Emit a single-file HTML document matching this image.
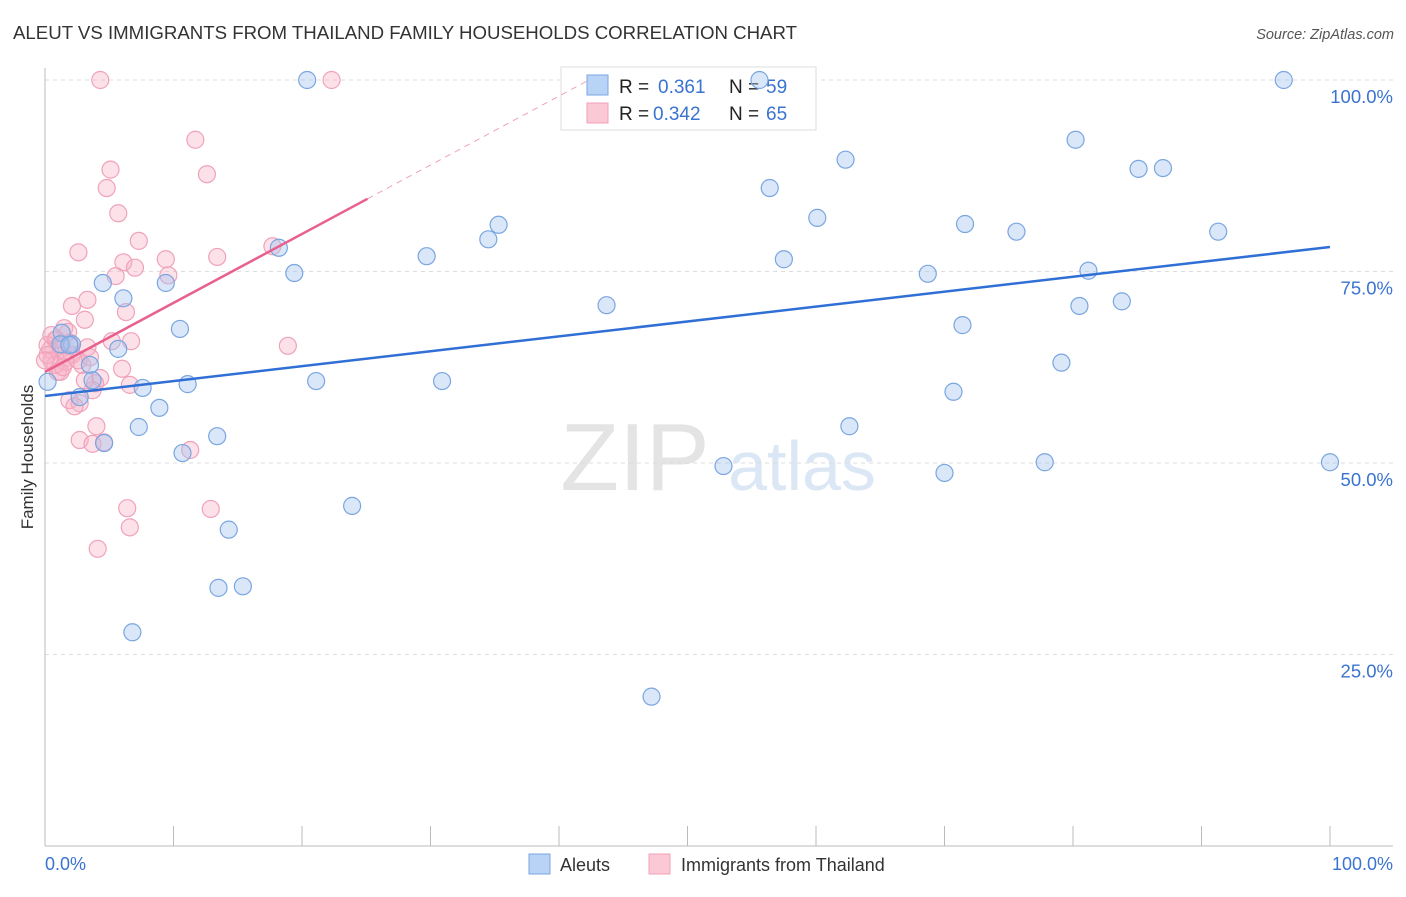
<!DOCTYPE html>
<html><head><meta charset="utf-8"><style>
body{margin:0;background:#fff;font-family:"Liberation Sans",sans-serif;}
svg text{font-family:"Liberation Sans",sans-serif;}
</style></head><body>
<svg id="chart" width="1406" height="892" viewBox="0 0 1406 892" xmlns="http://www.w3.org/2000/svg">
<text x="13" y="39" font-size="18.4" fill="#333" textLength="784" lengthAdjust="spacingAndGlyphs">ALEUT VS IMMIGRANTS FROM THAILAND FAMILY HOUSEHOLDS CORRELATION CHART</text>
<text x="1394" y="39" font-size="14.5" fill="#555" text-anchor="end" font-style="italic">Source: ZipAtlas.com</text>
<g>
<text x="635" y="490" font-size="96" fill="#e4e4e4" text-anchor="middle" font-family="Liberation Serif,serif">ZIP</text>
<text x="802" y="490" font-size="70" fill="#dbe7f5" text-anchor="middle">atlas</text>
</g>
<g id="grid"></g>
<g id="axes"></g>
<g>
<rect x="561" y="67" width="255" height="63" fill="#fff" stroke="#ddd"/>
<rect x="587" y="75" width="21" height="20" fill="#b9d3f7" stroke="#7aa6e0"/>
<rect x="587" y="103" width="21" height="20" fill="#fbc8d6" stroke="#f0a0b8"/>
<text x="619" y="93" font-size="19" fill="#222">R =</text>
<text x="658" y="93" font-size="19" fill="#3a73d0">0.361</text>
<text x="729" y="93" font-size="19" fill="#222">N =</text>
<text x="766" y="93" font-size="19" fill="#3a73d0">59</text>
<text x="619" y="120" font-size="19" fill="#222">R =</text>
<text x="653" y="120" font-size="19" fill="#3a73d0">0.342</text>
<text x="729" y="120" font-size="19" fill="#222">N =</text>
<text x="766" y="120" font-size="19" fill="#3a73d0">65</text>
</g>
<g id="pink"></g>
<g id="blue"></g>
<g id="lines"></g>
<text transform="translate(33,457) rotate(-90)" font-size="17" fill="#333" text-anchor="middle">Family Households</text>
<g>
<rect x="529" y="854" width="21" height="20" fill="#b9d3f7" stroke="#7aa6e0"/>
<text x="560" y="871" font-size="18" fill="#333">Aleuts</text>
<rect x="649" y="854" width="21" height="20" fill="#fbc8d6" stroke="#f0a0b8"/>
<text x="681" y="871" font-size="18" fill="#333">Immigrants from Thailand</text>
</g>
</svg>
<script>
const blueX=[0.2,20.4,55.6,96.4,80.2,62.3,85.1,87.0,56.4,60.1,71.6,75.6,91.3,34.5,35.3,29.7,18.2,19.4,57.5,68.7,81.2,4.5,6.1,9.4,80.5,83.8,43.7,71.4,10.5,1.3,2.1,5.7,79.1,3.5,3.7,21.1,30.9,11.1,7.6,2.7,70.7,8.9,62.6,7.3,13.4,4.6,10.7,52.8,77.8,70.0,100,23.9,14.3,13.5,15.4,6.8,47.2,1.2,1.9];
const blueY=[60.6,100,100,100,92.2,89.6,88.4,88.5,85.9,82.0,81.2,80.2,80.2,79.2,81.1,77.0,78.1,74.8,76.6,74.7,75.1,73.5,71.5,73.5,70.5,71.1,70.6,68.0,67.5,67.0,65.5,64.9,63.1,62.8,60.8,60.7,60.7,60.3,59.8,58.6,59.3,57.2,54.8,54.7,53.5,52.6,51.3,49.6,50.1,48.7,50.1,44.4,41.3,33.7,33.9,27.9,19.5,65.5,65.4];
const pinkX=[4.3,22.3,11.7,5.1,12.6,4.8,5.7,7.3,17.7,2.6,13.4,9.4,6.1,7.0,9.6,5.5,3.3,2.1,6.3,3.1,1.5,1.8,0.8,5.2,6.7,3.3,18.9,0.4,1.2,2.1,0.5,1.6,2.9,6.0,1.0,4.3,3.9,6.6,3.7,1.9,2.7,2.3,4.0,2.7,3.7,4.6,11.3,6.4,12.9,6.6,4.1,0.2,0.8,1.3,0.2,0.9,1.6,2.6,3.5,0,0.5,3.1,1.9,1.2,1.4];
const pinkY=[100,100,92.2,88.3,87.7,85.9,82.6,79.0,78.3,77.5,76.9,76.6,76.2,75.5,74.5,74.4,71.3,70.5,69.7,68.7,67.6,67.1,66.1,65.9,65.9,65.1,65.3,64.8,64.8,64.1,63.4,63.7,62.8,62.3,61.9,61.1,60.4,60.2,59.5,58.2,57.8,57.4,54.8,53.0,52.5,52.7,51.7,44.1,44.0,41.6,38.8,65.4,62.8,65.4,64.1,66.1,63.2,63.4,63.8,63.4,66.7,60.8,65.7,61.9,62.5];
const blueTrend=[58.75,78.2];
const pinkTrend=[61.9,0.9];
const yTicks=[25,50,75,100];
const yTickLabels=["25.0%","50.0%","75.0%","100.0%"];
const xTickLabels=["0.0%","100.0%"];
const NS="http://www.w3.org/2000/svg";
const X0=45,X1=1330,Y0=846,Y1=80;
const sx=v=>X0+(X1-X0)*v/100, sy=v=>Y0-(Y0-Y1)*v/100;
function mk(tag,attrs,parent){const e=document.createElementNS(NS,tag);for(const k in attrs)e.setAttribute(k,attrs[k]);parent.appendChild(e);return e;}
const grid=document.getElementById('grid'),axes=document.getElementById('axes');
yTicks.forEach((t,i)=>{
 const l=mk('line',{x1:X0,x2:1393,y1:sy(t),y2:sy(t),stroke:'#ddd','stroke-dasharray':'4,4'},grid);
 
 
 const tx=mk('text',{x:1393,y:sy(t)+23,'font-size':18.5,fill:'#3a73d0','text-anchor':'end'},axes);
 tx.textContent=yTickLabels[i];
 
 
});
mk('line',{x1:X0,x2:X0,y1:68,y2:Y0,stroke:'#bbb'},axes);
mk('line',{x1:X0,x2:1393,y1:Y0,y2:Y0,stroke:'#bbb'},axes);
for(let i=0;i<=10;i++){const t=mk('line',{x1:sx(i*10),x2:sx(i*10),y1:826,y2:Y0,stroke:'#bbb'},axes);}
const xl0=mk('text',{x:45,y:870,'font-size':18,fill:'#3a73d0'},axes);xl0.textContent=xTickLabels[0];


const xl1=mk('text',{x:1393,y:870,'font-size':18,fill:'#3a73d0','text-anchor':'end'},axes);xl1.textContent=xTickLabels[1];


const pg=document.getElementById('pink'),bg=document.getElementById('blue');
pinkX.forEach((v,i)=>{const c=mk('circle',{cx:sx(v),cy:sy(pinkY[i]),r:8.5,fill:'rgba(248,175,198,0.38)',stroke:'#f0a2ba','stroke-width':1.2},pg);
 
 });
blueX.forEach((v,i)=>{const c=mk('circle',{cx:sx(v),cy:sy(blueY[i]),r:8.5,fill:'rgba(160,195,240,0.4)',stroke:'#7aa6e0','stroke-width':1.2},bg);
 
 });
const lg=document.getElementById('lines');
const bl=mk('line',{x1:sx(0),y1:sy(blueTrend[0]),x2:sx(100),y2:sy(blueTrend[1]),stroke:'#2f6fd6','stroke-width':2.5},lg);


const pf=x=>pinkTrend[0]+pinkTrend[1]*x;
const xe=(100-pinkTrend[0])/pinkTrend[1];
const pd=mk('line',{x1:sx(25.1),y1:sy(pf(25.1)),x2:sx(xe),y2:sy(100),stroke:'#f0a2ba','stroke-width':1,'stroke-dasharray':'6,5'},lg);


const pl=mk('line',{x1:sx(0),y1:sy(pf(0)),x2:sx(25.1),y2:sy(pf(25.1)),stroke:'#e8608e','stroke-width':2.5},lg);


</script>
</body></html>
